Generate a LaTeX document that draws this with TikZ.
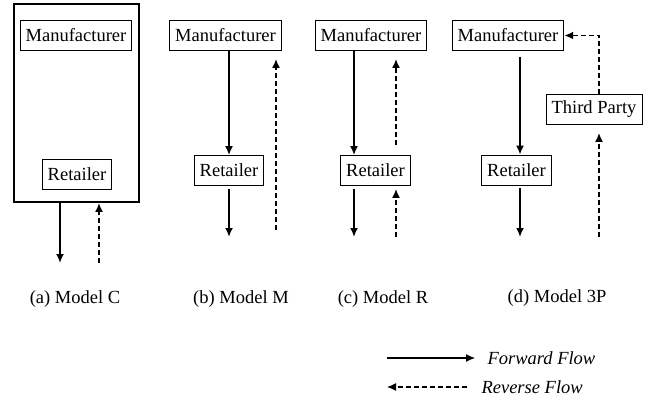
\documentclass[tikz,border=0pt]{standalone}
\usepackage{fontspec}
\setmainfont{Liberation Serif}
\usetikzlibrary{arrows.meta,positioning}

\begin{document}
\begin{tikzpicture}[x=1pt,y=-1pt,
  party/.style={draw,line width=0.8pt,minimum height=30pt,inner xsep=5.5pt,font=\fontsize{18.5}{22}\selectfont},
  caplabel/.style={font=\fontsize{18.5}{22}\selectfont},
  fwd/.style={-{Latex[length=9pt,width=8pt]},line width=1.8pt},
  rev/.style={fwd,dash pattern=on 5pt off 3pt}]
  \useasboundingbox (0,0) rectangle (652,398);
  % (a) Model C
  \node[draw,line width=1.8pt,minimum width=125pt,minimum height=198pt] (firmC) at (76.5,103) {};
  \node[party] (manC) at (76,35.5) {Manufacturer};
  \node[party] (retC) at (77,174) {Retailer};
  \coordinate (fC) at (60,263);
  \coordinate (bC) at (99,263);
  \draw[fwd] (fC |- firmC.south) -- (fC);
  \draw[rev] (bC) -- (bC |- firmC.south);
  \node[caplabel] (capC) at (75,299) {(a) Model C};
  % (b) Model M
  \node[party] (manM) at (225.5,35.5) {Manufacturer};
  \node[party] (retM) at (229,170.5) {Retailer};
  \coordinate (fM) at (229,237);
  \coordinate (bM) at (276,230);
  \draw[fwd] (fM |- manM.south) -- (retM.north);
  \draw[fwd,shorten <=3pt] (retM.south) -- (fM);
  \draw[rev,shorten >=8pt] (bM) -- (bM |- manM.south);
  \node[caplabel] (capM) at (241,299) {(b) Model M};
  % (c) Model R
  \node[party] (manR) at (371,35.5) {Manufacturer};
  \node[party] (retR) at (375.5,170.5) {Retailer};
  \coordinate (fR) at (354,237);
  \coordinate (bR) at (396,237);
  \draw[fwd] (fR |- manR.south) -- (fR |- retR.north);
  \draw[rev,shorten <=10pt,shorten >=8pt] (bR |- retR.north) -- (bR |- manR.south);
  \draw[fwd,shorten <=3pt] (fR |- retR.south) -- (fR);
  \draw[rev,shorten >=3pt] (bR) -- (bR |- retR.south);
  \node[caplabel] (capR) at (383,299) {(c) Model R};
  % (d) Model 3P
  \node[party] (manP) at (508,35.5) {Manufacturer};
  \node[party] (retP) at (516.5,170) {Retailer};
  \node[party] (tp) at (594,109.5) {Third Party};
  \coordinate (fP) at (520,237);
  \coordinate (bP) at (599,237);
  \draw[fwd,shorten <=6pt] (fP |- manP.south) -- (fP |- retP.north);
  \draw[fwd,shorten <=3pt] (fP |- retP.south) -- (fP);
  \draw[rev] (bP |- tp.north) |- (manP.east);
  \draw[rev,shorten >=8pt] (bP) -- (bP |- tp.south);
  \node[caplabel] (capP) at (557,298) {(d) Model 3P};
  % legend
  \node[caplabel,font=\fontsize{18.5}{22}\selectfont\itshape,anchor=west] (fwdL) at (484,358) {Forward Flow};
  \node[caplabel,font=\fontsize{18.5}{22}\selectfont\itshape,anchor=west] (revL) at (478,387) {Reverse Flow};
  \coordinate (legF) at (387,358);
  \coordinate (legR) at (387,387);
  \draw[fwd,line width=1.2pt,shorten >=9pt] (legF) -- (fwdL.west);
  \draw[rev,line width=1.2pt,shorten <=11pt] (revL.west) -- (legR);
\end{tikzpicture}
\end{document}
